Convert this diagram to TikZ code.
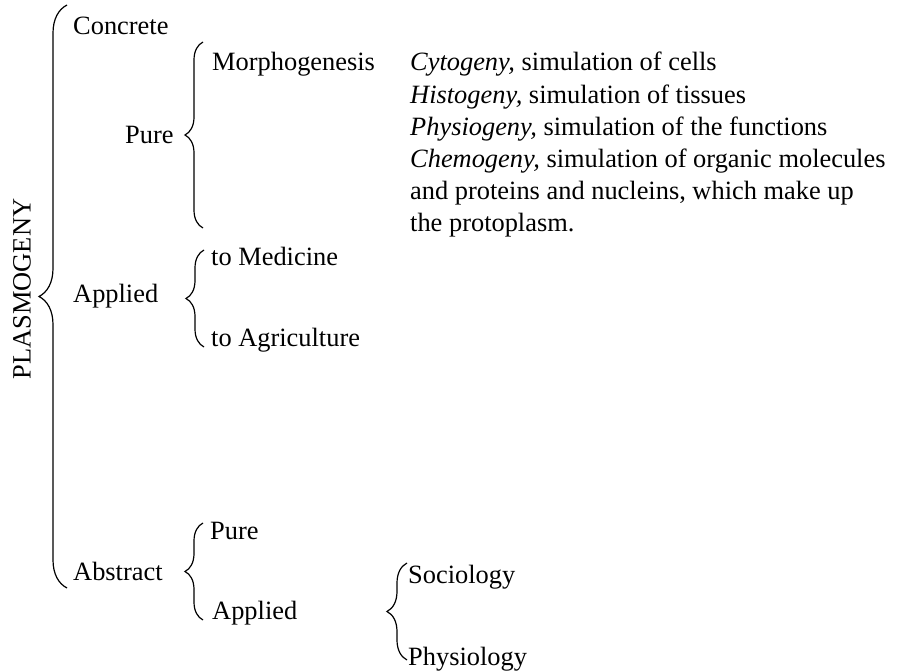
\documentclass[tikz,border=0pt]{standalone}
\usepackage{fontspec}
\setmainfont{Liberation Serif}
\usetikzlibrary{decorations.pathreplacing}
\begin{document}
\begin{tikzpicture}[x=1pt,y=-1pt,
  lbl/.style={anchor=base west, inner sep=0pt, font=\fontsize{26.4}{32}\selectfont},
  curly/.style={decorate, decoration={brace, amplitude=#1}, line width=1.2pt}]
\useasboundingbox (0,0) rectangle (898,671);
% title
\node[inner sep=0pt, rotate=90, anchor=center, font=\fontsize{26.4}{32}\selectfont] (title) at (22,289) {PLASMOGENY};
% first level
\node[lbl] (concrete) at (73,35) {Concrete};
\node[lbl] (pure1) at (125,144) {Pure};
\node[lbl] (applied1) at (73,303) {Applied};
\node[lbl] (abstract) at (73,580) {Abstract};
% second level
\node[lbl] (morpho) at (212,71) {Morphogenesis};
\node[lbl] (medicine) at (211,266) {to Medicine};
\node[lbl] (agri) at (211,347) {to Agriculture};
\node[lbl] (pure2) at (210,539) {Pure};
\node[lbl] (applied2) at (212,619) {Applied};
\node[lbl] (socio) at (408,583) {Sociology};
\node[lbl] (physio) at (408,665) {Physiology};
% description lines
\node[lbl] (l1) at (410,71) {\textit{Cytogeny,} simulation of cells};
\node[lbl] (l2) at (410,103.2) {\textit{Histogeny,} simulation of tissues};
\node[lbl] (l3) at (410,135.4) {\textit{Physiogeny,} simulation of the functions};
\node[lbl] (l4) at (410,167.6) {\textit{Chemogeny,} simulation of organic molecules};
\node[lbl] (l5) at (410,199.8) {and proteins and nucleins, which make up};
\node[lbl] (l6) at (410,232) {the protoplasm.};
% brace end points
\coordinate (bigT) at (67,5);
\coordinate (bigB) at (67,588);
\coordinate (pureT) at (203,42);
\coordinate (pureB) at (203,228);
\coordinate (appT) at (204,250);
\coordinate (appB) at (204,347);
\coordinate (absT) at (203,523);
\coordinate (absB) at (203,620);
\coordinate (socT) at (407,563);
\coordinate (socB) at (407,660);
% braces
\draw[curly=28] (bigB) -- (bigT);
\draw[curly=18] (pureB) -- (pureT);
\draw[curly=18] (appB) -- (appT);
\draw[curly=18] (absB) -- (absT);
\draw[curly=20] (socB) -- (socT);
\end{tikzpicture}
\end{document}
